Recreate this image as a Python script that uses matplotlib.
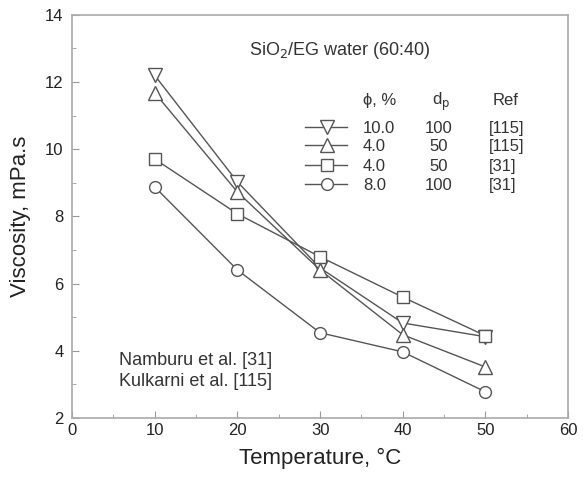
import matplotlib
matplotlib.use('Agg')
import matplotlib.pyplot as plt
from matplotlib.ticker import MultipleLocator

plt.rcParams['font.family'] = ['Liberation Sans', 'DejaVu Sans']

temps = [10, 20, 30, 40, 50]
visc_10_100 = [12.2, 9.03, 6.47, 4.83, 4.42]
visc_4_50_k = [11.68, 8.73, 6.41, 4.48, 3.52]
visc_4_50_n = [9.71, 8.08, 6.8, 5.6, 4.45]
visc_8_100 = [8.88, 6.41, 4.54, 3.97, 2.78]

phis = ['10.0', '4.0', '4.0', '8.0']
dps = ['100', '50', '50', '100']
refs = ['[115]', '[115]', '[31]', '[31]']
markers = ['v', '^', 's', 'o']

series = [visc_10_100, visc_4_50_k, visc_4_50_n, visc_8_100]

line_col = '#555555'
txt_col = '#333333'
msize = {'v': 10, '^': 10, 's': 8, 'o': 8.5}

fig = plt.figure(figsize=(5.83, 4.8), dpi=100)
ax = fig.add_axes([0.1235, 0.129, 0.851, 0.84])

for ys, m in zip(series, markers):
    ax.plot(temps, ys, color=line_col, lw=1.0, marker=m, ms=msize[m],
            mfc='white', mec=line_col, mew=1.0)

ax.set_xlim(0, 60)
ax.set_ylim(2, 14)
ax.xaxis.set_major_locator(MultipleLocator(10))
ax.xaxis.set_minor_locator(MultipleLocator(5))
ax.yaxis.set_major_locator(MultipleLocator(2))
ax.yaxis.set_minor_locator(MultipleLocator(1))
ax.tick_params(which='both', direction='in', color='#999999', labelsize=12, labelcolor='#222222')
ax.tick_params(which='major', length=5)
ax.tick_params(which='minor', length=3)
ax.tick_params(axis='y', pad=6)
for s in ax.spines.values():
    s.set_color('#aaaaaa')
    s.set_linewidth(1.2)

ax.set_xlabel('Temperature, \u00b0C', fontsize=16, color='#222222', labelpad=7)
ax.set_ylabel('Viscosity, mPa.s', fontsize=16, color='#222222', labelpad=10)

def fx(px):
    return (px - 72) / 496.0

def fy(py):
    return (418 - py) / 403.0

# annotations
ax.text(fx(249), fy(55), 'SiO$_2$/EG water (60:40)', transform=ax.transAxes,
        fontsize=13, color=txt_col, va='baseline')
ax.text(fx(119), fy(365), 'Namburu et al. [31]', transform=ax.transAxes,
        fontsize=13, color=txt_col, va='baseline')
ax.text(fx(119), fy(386), 'Kulkarni et al. [115]', transform=ax.transAxes,
        fontsize=13, color=txt_col, va='baseline')

# legend table
fs = 12
ax.text(fx(363), fy(105), '\u03d5, %', transform=ax.transAxes, fontsize=fs,
        color=txt_col, va='baseline')
ax.text(fx(432), fy(105), 'd$_\\mathrm{p}$', transform=ax.transAxes, fontsize=fs,
        color=txt_col, va='baseline')
ax.text(fx(493), fy(105), 'Ref', transform=ax.transAxes, fontsize=fs,
        color=txt_col, va='baseline')
rows_base = [133, 151, 171, 190]
for i in range(4):
    yb = fy(rows_base[i])
    ym = fy(rows_base[i] - 6)
    ax.plot([fx(305), fx(347)], [ym, ym], transform=ax.transAxes, color=line_col, lw=1.0)
    ax.plot([fx(327)], [ym], transform=ax.transAxes, marker=markers[i],
            ms=msize[markers[i]], mfc='white', mec=line_col, mew=1.0)
    ax.text(fx(363), yb, phis[i], transform=ax.transAxes, fontsize=fs, color=txt_col, va='baseline')
    ax.text(fx(439), yb, dps[i], transform=ax.transAxes, fontsize=fs, color=txt_col,
            va='baseline', ha='center')
    ax.text(fx(489), yb, refs[i], transform=ax.transAxes, fontsize=fs, color=txt_col, va='baseline')

fig.savefig('out.png', dpi=100)
